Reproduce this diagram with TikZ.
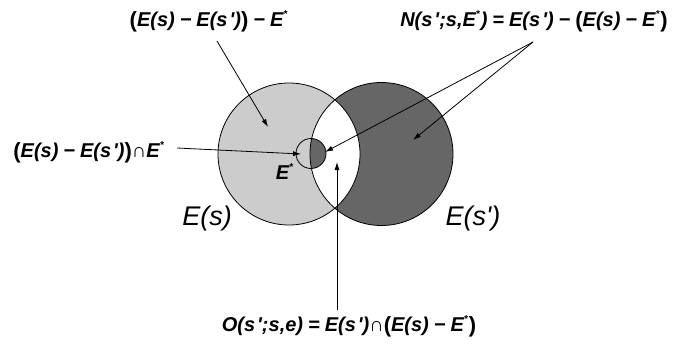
\documentclass[tikz,border=0pt]{standalone}
\usepackage{fontspec}
\setmainfont{Liberation Sans}
\newfontfamily\arial{Liberation Sans}
\usetikzlibrary{arrows.meta}
\definecolor{lightg}{HTML}{CCCCCC}
\definecolor{darkg}{HTML}{666666}
\newcommand{\pq}{\kern2pt'}
\newcommand{\stz}{\raisebox{0.45em}{\fontsize{10}{10}\selectfont *}\kern1pt}
\newcommand{\bp}[1]{\raisebox{-1pt}{\fontsize{22}{22}\selectfont\upshape #1}}
\newcommand{\labfont}{\arial\fontsize{20}{22}\selectfont\bfseries\itshape\spaceskip 5pt\relax}
\tikzset{
  lab/.style={font=\labfont, inner sep=0pt},
  biglab/.style={font=\arial\fontsize{27}{30}\selectfont\itshape, inner sep=0pt},
  ptr/.style={draw=black, line width=0.8pt, -{Latex[length=8pt,width=5pt]}},
  outline/.style={draw=black, line width=0.8pt}
}
\begin{document}
\begin{tikzpicture}[x=1pt,y=-1pt]
\useasboundingbox (0,0) rectangle (680,345);
\coordinate (cL) at (289,154);
\coordinate (cR) at (381.5,154);
\coordinate (cS) at (311,153.5);
% fills
\fill[lightg] (cL) circle (71);
\fill[darkg] (cR) circle (71.5);
\begin{scope}
  \clip (cL) circle (71);
  \fill[white] (cR) circle (71.5);
\end{scope}
\begin{scope}
  \clip (cR) circle (71.5);
  \fill[darkg] (cS) circle (15);
\end{scope}
% outlines
\draw[outline] (cL) circle (71);
\draw[outline] (cR) circle (71.5);
\draw[outline] (cS) circle (15);
% labels
\node[lab] (l1) at (209,21) {\bp{(}E(s) − E(s\pq)\bp{)} − E\stz};
\node[lab] (l2) at (534,21) {N(s\pq;s,E\stz) = E(s\pq) − \bp{(}E(s) − E\stz\bp{)}};
\node[lab] (l3) at (89,152) {\bp{(}E(s) − E(s\pq)\bp{)}∩E\stz};
\node[lab] (l4) at (349,326) {O(s\pq;s,e) = E(s\pq)∩\bp{(}E(s) − E\stz\bp{)}};
\node[lab] (estar) at (285,172) {E\stz};
\node[biglab] (nEs) at (207,219) {E(s)};
\node[biglab] (nEsp) at (473,219) {E(s')};
% connector ends
\coordinate (s1) at (217,41);
\coordinate (t1) at (268,127);
\coordinate (s2) at (533,42);
\coordinate (t2) at (325,152);
\coordinate (t3) at (413,140);
\coordinate (s4) at (177,148);
\coordinate (t4) at (301,154);
\coordinate (s5) at (337,310);
\coordinate (t5) at (337,162);
\draw[ptr] (s1) -- (t1);
\draw[ptr] (s2) -- (t2);
\draw[ptr] (s2) -- (t3);
\draw[ptr] (s4) -- (t4);
\draw[ptr] (s5) -- (t5);
\end{tikzpicture}
\end{document}
